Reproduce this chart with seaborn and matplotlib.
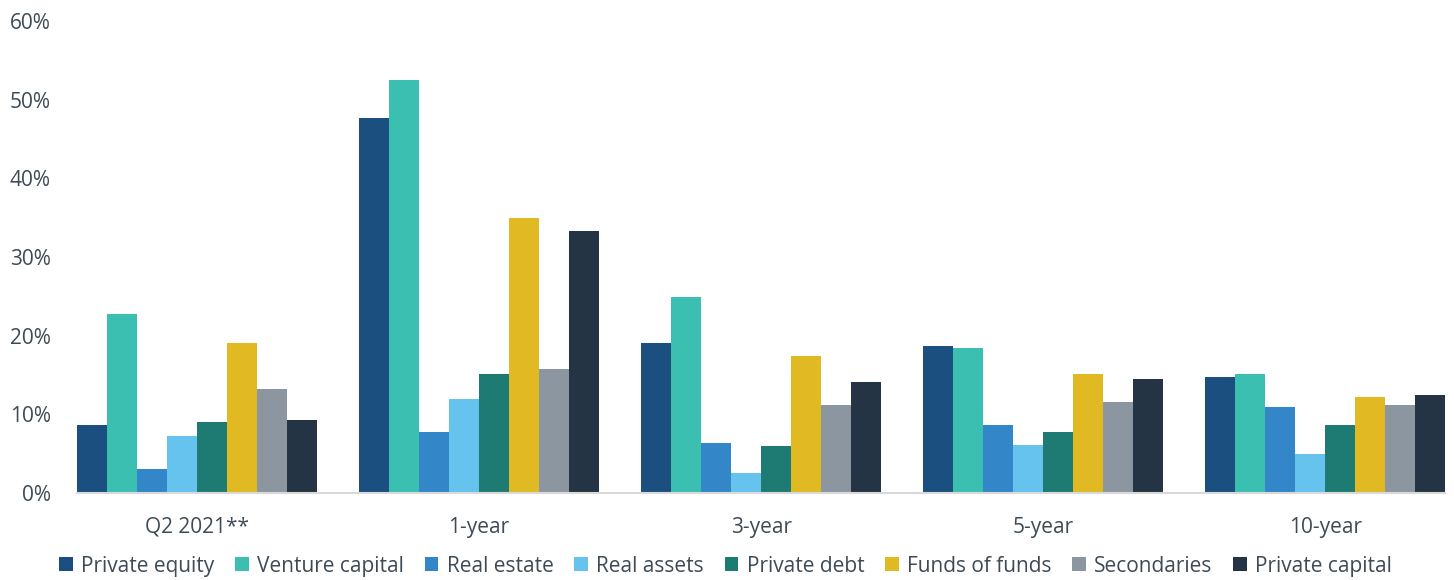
import matplotlib
matplotlib.use("Agg")
import matplotlib.pyplot as plt
import seaborn as sns
import pandas as pd
from matplotlib.ticker import FuncFormatter

periods = ["Q2 2021**", "1-year", "3-year", "5-year", "10-year"]
series = ["Private equity", "Venture capital", "Real estate", "Real assets",
          "Private debt", "Funds of funds", "Secondaries", "Private capital"]
private_equity = [8.6, 47.6, 19.0, 18.7, 14.8]
venture_capital = [22.7, 52.5, 24.9, 18.4, 15.1]
real_estate = [3.1, 7.7, 6.3, 8.6, 10.9]
real_assets = [7.3, 11.9, 2.5, 6.1, 5.0]
private_debt = [9.0, 15.1, 6.0, 7.7, 8.6]
funds_of_funds = [19.1, 34.9, 17.4, 15.1, 12.2]
secondaries = [13.2, 15.8, 11.2, 11.6, 11.2]
private_capital = [9.3, 33.3, 14.1, 14.5, 12.5]
colors = ["#1b4f80", "#3bbfb1", "#3386c8", "#66c3ee",
          "#1e7b73", "#e1b922", "#8c96a1", "#243444"]

values = [private_equity, venture_capital, real_estate, real_assets,
          private_debt, funds_of_funds, secondaries, private_capital]
rows = []
for s, vals in zip(series, values):
    for p, v in zip(periods, vals):
        rows.append({"period": p, "series": s, "value": v / 100})
df = pd.DataFrame(rows)

sns.set_theme(style="white")
plt.rcParams["font.family"] = ["Open Sans", "DejaVu Sans"]
text_color = "#3e4a56"

fig = plt.figure(figsize=(14.54, 5.8), dpi=100)
ax = fig.add_axes([0.053, 0.15, 0.941, 0.814])
sns.barplot(data=df, x="period", y="value", hue="series", order=periods,
            hue_order=series, palette=colors, width=0.85, gap=0,
            linewidth=0, saturation=1, ax=ax)

ax.set_xlim(-0.425, 4.425)
ax.set_ylim(0, 0.6)
ax.set_yticks([0, 0.1, 0.2, 0.3, 0.4, 0.5, 0.6])
ax.yaxis.set_major_formatter(FuncFormatter(lambda v, p: f"{v*100:.0f}%"))
ax.set_xlabel("")
ax.set_ylabel("")
for s in ["top", "right", "left"]:
    ax.spines[s].set_visible(False)
ax.spines["bottom"].set_color("#d9d9d9")
ax.spines["bottom"].set_linewidth(1.5)
ax.tick_params(axis="both", length=0, labelsize=15, labelcolor=text_color)
ax.tick_params(axis="y", pad=19)
ax.tick_params(axis="x", pad=17)
ax.grid(False)

handles, labels = ax.get_legend_handles_labels()
ax.legend(handles, labels, loc="center", bbox_to_anchor=(0.474, -0.155),
          ncol=8, frameon=False, fontsize=15, handlelength=0.65, handleheight=0.65,
          handletextpad=0.4, columnspacing=1.0, labelcolor=text_color)

fig.savefig("out.png", dpi=100)
